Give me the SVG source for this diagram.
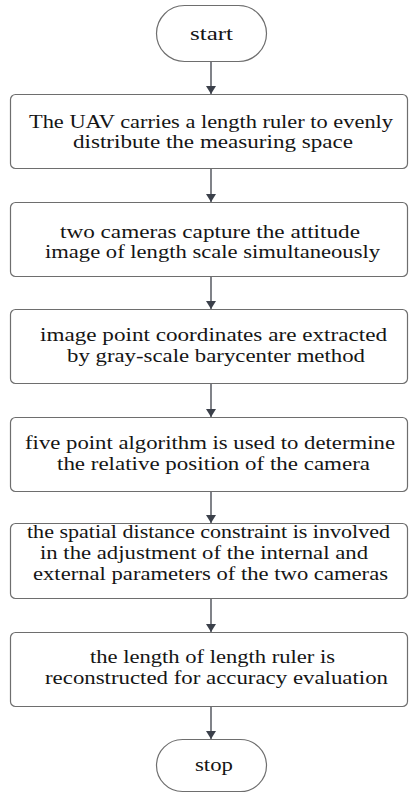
<svg xmlns="http://www.w3.org/2000/svg" width="409" height="796" viewBox="0 0 409 796">
  <defs>
    <marker id="arrow" viewBox="0 0 8 10" refX="8" refY="5" markerWidth="8" markerHeight="10" markerUnits="userSpaceOnUse" orient="auto">
      <path d="M0,0 L8,5 L0,10 Z" fill="#3b404a"/>
    </marker>
  </defs>
  <style>
    .box { fill: #ffffff; stroke: #6e6e6e; stroke-width: 1.2; }
    .term { fill: #ffffff; stroke: #6e6e6e; stroke-width: 1.2; }
    .label { font-family: 'Liberation Serif', 'DejaVu Serif', serif; font-size: 18px; fill: #151515; text-anchor: middle; }
    .edge { stroke: #4a4e56; stroke-width: 1.4; fill: none; marker-end: url(#arrow); }
  </style>
  <rect width="409" height="796" fill="#ffffff"/>

  <!-- connectors -->
  <g id="connectors">
    <line class="edge" x1="211" y1="62" x2="211" y2="94"/>
    <line class="edge" x1="211" y1="169" x2="211" y2="202"/>
    <line class="edge" x1="211" y1="277" x2="211" y2="309"/>
    <line class="edge" x1="211" y1="384" x2="211" y2="417"/>
    <line class="edge" x1="211" y1="492" x2="211" y2="523"/>
    <line class="edge" x1="211" y1="599" x2="211" y2="632"/>
    <line class="edge" x1="211" y1="707" x2="211" y2="739"/>
  </g>

  <g id="start">
    <rect class="term" x="156.5" y="5.5" width="110" height="56" rx="28" ry="28"/>
    <text class="label" x="211.5" y="40" textLength="43" lengthAdjust="spacingAndGlyphs">start</text>
  </g>

  <g id="step1">
    <rect class="box" x="10.5" y="94.5" width="397" height="74" rx="5" ry="5"/>
    <text class="label" x="211" y="128" textLength="364" lengthAdjust="spacingAndGlyphs">The UAV carries a length ruler to evenly</text>
    <text class="label" x="213" y="148" textLength="280" lengthAdjust="spacingAndGlyphs">distribute the measuring space</text>
  </g>

  <g id="step2">
    <rect class="box" x="10.5" y="202.5" width="397" height="74" rx="5" ry="5"/>
    <text class="label" x="210" y="238" textLength="300" lengthAdjust="spacingAndGlyphs">two cameras capture the attitude</text>
    <text class="label" x="212.5" y="258" textLength="335" lengthAdjust="spacingAndGlyphs">image of length scale simultaneously</text>
  </g>

  <g id="step3">
    <rect class="box" x="10.5" y="309.5" width="397" height="74" rx="5" ry="5"/>
    <text class="label" x="213.5" y="341" textLength="347" lengthAdjust="spacingAndGlyphs">image point coordinates are extracted</text>
    <text class="label" x="216" y="362" textLength="298" lengthAdjust="spacingAndGlyphs">by gray-scale barycenter method</text>
  </g>

  <g id="step4">
    <rect class="box" x="10.5" y="417.5" width="397" height="74" rx="5" ry="5"/>
    <text class="label" x="210" y="449" textLength="370" lengthAdjust="spacingAndGlyphs">five point algorithm is used to determine</text>
    <text class="label" x="213.5" y="470" textLength="313" lengthAdjust="spacingAndGlyphs">the relative position of the camera</text>
  </g>

  <g id="step5">
    <rect class="box" x="10.5" y="523.5" width="397" height="75" rx="5" ry="5"/>
    <text class="label" x="208.5" y="538" textLength="363" lengthAdjust="spacingAndGlyphs">the spatial distance constraint is involved</text>
    <text class="label" x="204" y="559" textLength="328" lengthAdjust="spacingAndGlyphs">in the adjustment of the internal and</text>
    <text class="label" x="210.5" y="580" textLength="355" lengthAdjust="spacingAndGlyphs">external parameters of the two cameras</text>
  </g>

  <g id="step6">
    <rect class="box" x="10.5" y="632.5" width="397" height="74" rx="5" ry="5"/>
    <text class="label" x="212.5" y="663" textLength="245" lengthAdjust="spacingAndGlyphs">the length of length ruler is</text>
    <text class="label" x="216.5" y="684" textLength="343" lengthAdjust="spacingAndGlyphs">reconstructed for accuracy evaluation</text>
  </g>

  <g id="stop">
    <rect class="term" x="156.5" y="739.5" width="110" height="52" rx="26" ry="26"/>
    <text class="label" x="214" y="771" textLength="38" lengthAdjust="spacingAndGlyphs">stop</text>
  </g>
</svg>
